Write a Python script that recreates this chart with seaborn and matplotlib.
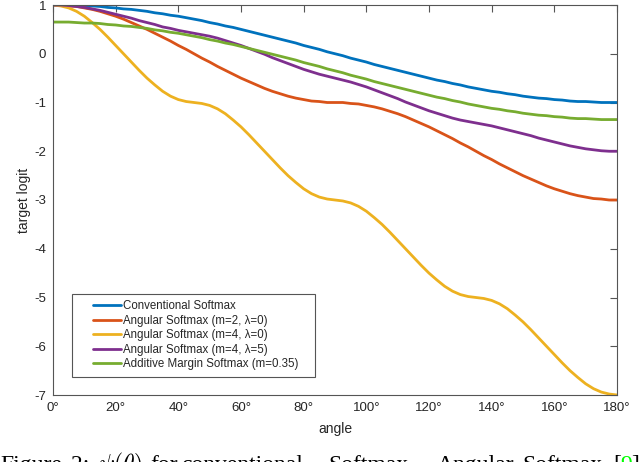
import matplotlib
matplotlib.use("Agg")
import matplotlib.pyplot as plt
from matplotlib.legend_handler import HandlerLine2D
import seaborn as sns
import pandas as pd

# angle in degrees, 2.5 degree steps (0 .. 180)
angles = [i * 2.5 for i in range(73)]

conventional = [1.00, 1.00, 1.00, 0.99, 0.98, 0.98, 0.97, 0.95, 0.94, 0.92, 0.91, 0.89,
                0.87, 0.84, 0.82, 0.79, 0.77, 0.74, 0.71, 0.68, 0.64, 0.61, 0.57, 0.54,
                0.50, 0.46, 0.42, 0.38, 0.34, 0.30, 0.26, 0.22, 0.17, 0.13, 0.09, 0.04,
                0.00, -0.04, -0.09, -0.13, -0.17, -0.22, -0.26, -0.30, -0.34, -0.38,
                -0.42, -0.46, -0.50, -0.54, -0.57, -0.61, -0.64, -0.68, -0.71, -0.74,
                -0.77, -0.79, -0.82, -0.84, -0.87, -0.89, -0.91, -0.92, -0.94, -0.95,
                -0.97, -0.98, -0.98, -0.99, -1.00, -1.00, -1.00]

angular_m2 = [1.00, 1.00, 0.98, 0.97, 0.94, 0.91, 0.87, 0.82, 0.77, 0.71, 0.64, 0.57,
              0.50, 0.42, 0.34, 0.26, 0.17, 0.09, 0.00, -0.09, -0.17, -0.26, -0.34,
              -0.42, -0.50, -0.57, -0.64, -0.71, -0.77, -0.82, -0.87, -0.91, -0.94,
              -0.97, -0.98, -1.00, -1.00, -1.00, -1.02, -1.03, -1.06, -1.09, -1.13,
              -1.18, -1.23, -1.29, -1.36, -1.43, -1.50, -1.58, -1.66, -1.74, -1.83,
              -1.91, -2.00, -2.09, -2.17, -2.26, -2.34, -2.42, -2.50, -2.57, -2.64,
              -2.71, -2.77, -2.82, -2.87, -2.91, -2.94, -2.97, -2.98, -3.00, -3.00]

angular_m4 = [1.00, 0.98, 0.94, 0.87, 0.77, 0.64, 0.50, 0.34, 0.17, 0.00, -0.17, -0.34,
              -0.50, -0.64, -0.77, -0.87, -0.94, -0.98, -1.00, -1.02, -1.06, -1.13,
              -1.23, -1.36, -1.50, -1.66, -1.83, -2.00, -2.17, -2.34, -2.50, -2.64,
              -2.77, -2.87, -2.94, -2.98, -3.00, -3.02, -3.06, -3.13, -3.23, -3.36,
              -3.50, -3.66, -3.83, -4.00, -4.17, -4.34, -4.50, -4.64, -4.77, -4.87,
              -4.94, -4.98, -5.00, -5.02, -5.06, -5.13, -5.23, -5.36, -5.50, -5.66,
              -5.83, -6.00, -6.17, -6.34, -6.50, -6.64, -6.77, -6.87, -6.94, -6.98,
              -7.00]

angular_m4_l5 = [1.00, 1.00, 0.99, 0.97, 0.95, 0.92, 0.89, 0.85, 0.81, 0.77, 0.73, 0.68,
                 0.64, 0.60, 0.55, 0.52, 0.48, 0.45, 0.42, 0.39, 0.36, 0.32, 0.27, 0.22,
                 0.17, 0.11, 0.05, -0.01, -0.08, -0.14, -0.20, -0.26, -0.32, -0.37,
                 -0.42, -0.46, -0.50, -0.54, -0.58, -0.63, -0.68, -0.74, -0.80, -0.86,
                 -0.92, -0.99, -1.05, -1.11, -1.17, -1.22, -1.27, -1.32, -1.36, -1.39,
                 -1.42, -1.45, -1.48, -1.52, -1.56, -1.60, -1.64, -1.68, -1.73, -1.77,
                 -1.81, -1.85, -1.89, -1.92, -1.95, -1.97, -1.99, -2.00, -2.00]

additive_margin = [0.65, 0.65, 0.65, 0.64, 0.63, 0.63, 0.62, 0.60, 0.59, 0.57, 0.56, 0.54,
                   0.52, 0.49, 0.47, 0.44, 0.42, 0.39, 0.36, 0.33, 0.29, 0.26, 0.22, 0.19,
                   0.15, 0.11, 0.07, 0.03, -0.01, -0.05, -0.09, -0.13, -0.18, -0.22,
                   -0.26, -0.31, -0.35, -0.39, -0.44, -0.48, -0.52, -0.57, -0.61, -0.65,
                   -0.69, -0.73, -0.77, -0.81, -0.85, -0.89, -0.92, -0.96, -0.99, -1.03,
                   -1.06, -1.09, -1.12, -1.14, -1.17, -1.19, -1.22, -1.24, -1.26, -1.27,
                   -1.29, -1.30, -1.32, -1.33, -1.33, -1.34, -1.35, -1.35, -1.35]

labels = ["Conventional Softmax",
          "Angular Softmax (m=2, λ=0)",
          "Angular Softmax (m=4, λ=0)",
          "Angular Softmax (m=4, λ=5)",
          "Additive Margin Softmax (m=0.35)"]
series = [conventional, angular_m2, angular_m4, angular_m4_l5, additive_margin]
colors = ["#0072BD", "#D95319", "#EDB120", "#7E2F8E", "#77AC30"]

x_ticks = list(range(0, 181, 20))
y_ticks = list(range(-7, 2))

frames = []
for name, vals in zip(labels, series):
    frames.append(pd.DataFrame({"angle": angles, "logit": vals, "method": name}))
df = pd.concat(frames, ignore_index=True)

sns.set_style("white")
plt.rcParams["font.family"] = ["Liberation Sans", "DejaVu Sans"]
plt.rcParams["mathtext.fontset"] = "cm"

fig = plt.figure(figsize=(6.4, 4.62), dpi=100)
ax = fig.add_axes([53 / 640, 1 - 395 / 462, 564 / 640, 390 / 462])

sns.lineplot(data=df, x="angle", y="logit", hue="method", palette=colors,
             linewidth=2.0, ax=ax, legend=False)

ax.set_xlim(0, 180)
ax.set_ylim(-7, 1)
ax.set_xticks(x_ticks)
ax.set_xticklabels([f"{t}°" for t in x_ticks])
ax.set_yticks(y_ticks)
ax.set_yticklabels([str(t) for t in y_ticks])
ax.tick_params(direction="in", length=5, width=0.8, color="#555555",
               labelsize=9.5, labelcolor="#262626", top=True, right=True,
               pad=5)
for sp in ax.spines.values():
    sp.set_color("#555555")
    sp.set_linewidth(0.8)

ax.set_xlabel("angle", fontsize=10, color="#262626", labelpad=6)
ax.set_ylabel("target logit", fontsize=10, color="#262626", labelpad=2.5)

# MATLAB style legend: wide left margin before the line samples
handles = ax.get_lines()[:len(labels)]
leg_labels = labels[:-1] + [labels[-1] + "   "]
leg = ax.legend(handles, leg_labels, loc="lower left", bbox_to_anchor=(0.034, 0.046),
                borderaxespad=0, fontsize=8.3, frameon=True, fancybox=False,
                edgecolor="#555555", framealpha=1, handlelength=3.6,
                handletextpad=0.2, labelspacing=0.21, borderpad=0.6,
                handler_map={h: HandlerLine2D(xpad=1.2) for h in handles})
leg.get_frame().set_linewidth(0.8)

# cut-off caption at the bottom of the page
cap_y = 1 - 471 / 462
cap_size = 17
cap_words = [("Figure", 0), ("2:", 71), (r"$\psi(\theta)$", 98), ("for", 150),
             ("conventional", 181), ("Softmax,", 328), ("Angular", 437),
             ("Softmax", 522), ("[", 613)]
for word, px in cap_words:
    fig.text(px / 640, cap_y, word, fontsize=cap_size, family="Liberation Serif",
             color="black", va="baseline", ha="left")
fig.text(620 / 640, cap_y, "9", fontsize=cap_size, family="Liberation Serif",
         color="#00ff00", va="baseline", ha="left")
fig.text(631 / 640, cap_y, "]", fontsize=cap_size, family="Liberation Serif",
         color="black", va="baseline", ha="left")

fig.savefig("out.png", dpi=100, facecolor="white")
